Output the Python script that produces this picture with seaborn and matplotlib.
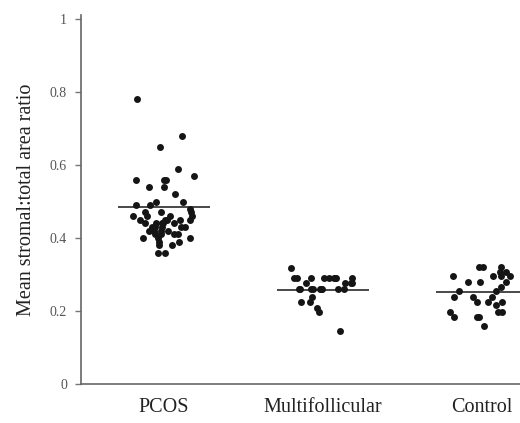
import numpy as np
import pandas as pd
import matplotlib
matplotlib.use("Agg")
import matplotlib.pyplot as plt
import seaborn as sns

# Group names and per-subject stromal:total area ratios
groups = ["PCOS", "Multifollicular", "Control"]

pcos = [0.78, 0.68, 0.65, 0.59, 0.57, 0.56, 0.56, 0.56, 0.54, 0.54,
        0.52, 0.50, 0.50, 0.49, 0.49,
        0.48, 0.47, 0.47, 0.47, 0.46, 0.46, 0.46, 0.46, 0.45, 0.45,
        0.45, 0.45, 0.45, 0.44, 0.44, 0.44, 0.44, 0.44, 0.43, 0.43,
        0.43, 0.43, 0.43, 0.42, 0.42, 0.42, 0.42, 0.41, 0.41, 0.41,
        0.41, 0.40, 0.40, 0.40, 0.39, 0.39, 0.38, 0.38, 0.36, 0.36]

multifollicular = [0.318, 0.29, 0.29, 0.29, 0.29, 0.29, 0.29, 0.29, 0.29, 0.29,
                   0.277, 0.277, 0.277, 0.277,
                   0.26, 0.26, 0.26, 0.26, 0.26, 0.26, 0.26, 0.26, 0.26,
                   0.238, 0.225, 0.225, 0.208, 0.197, 0.145]

control = [0.32, 0.32, 0.32, 0.307, 0.307, 0.296, 0.296, 0.296, 0.296,
           0.28, 0.28, 0.28, 0.266, 0.255, 0.255, 0.238, 0.238, 0.238,
           0.225, 0.225, 0.225, 0.216, 0.197, 0.197, 0.197,
           0.184, 0.184, 0.184, 0.159]

# Group means shown as horizontal bars
group_means = [0.485, 0.258, 0.252]

y_ticks = [0, 0.2, 0.4, 0.6, 0.8, 1]
y_tick_labels = ["0", "0.2", "0.4", "0.6", "0.8", "1"]

df = pd.DataFrame({
    "group": [groups[0]] * len(pcos) + [groups[1]] * len(multifollicular)
             + [groups[2]] * len(control),
    "ratio": pcos + multifollicular + control,
})

sns.set_theme(style="white")
plt.rcParams["font.family"] = ["Liberation Serif", "DejaVu Serif"]

fig = plt.figure(figsize=(5.20, 4.23), dpi=100)
ax = fig.add_axes([81 / 520, 39 / 423, 1 - 81 / 520, (384 - 15) / 423])

# Fixed seed so the horizontal scatter is reproducible
np.random.seed(7)
sns.stripplot(data=df, x="group", y="ratio", order=groups, ax=ax,
              color="#151515", size=5, jitter=0.2, linewidth=0)

# Mean bars
for i, m in enumerate(group_means):
    ax.hlines(m, i - 0.29, i + 0.29, color="#3a3a3a", linewidth=1.3, zorder=1)

ax.set_xlim(-0.52, 2.24)
ax.set_ylim(0, 1.011)
ax.set_yticks(y_ticks)
ax.set_yticklabels(y_tick_labels, fontsize=10, color="#555555")
ax.set_xticks(range(len(groups)))
ax.set_xticklabels(groups, fontsize=14.5, color="#222222")
ax.set_xlabel("")
ax.set_ylabel("Mean stromal:total area ratio", fontsize=14.5, color="#222222",
              labelpad=10)

for side in ["top", "right"]:
    ax.spines[side].set_visible(False)
for side in ["left", "bottom"]:
    ax.spines[side].set_color("#666666")
    ax.spines[side].set_linewidth(1.2)

ax.tick_params(axis="y", direction="out", length=4, width=1, color="#777777",
               left=True, pad=6)
ax.tick_params(axis="x", length=0, pad=10)

fig.savefig("out.png", dpi=100, facecolor="white")
